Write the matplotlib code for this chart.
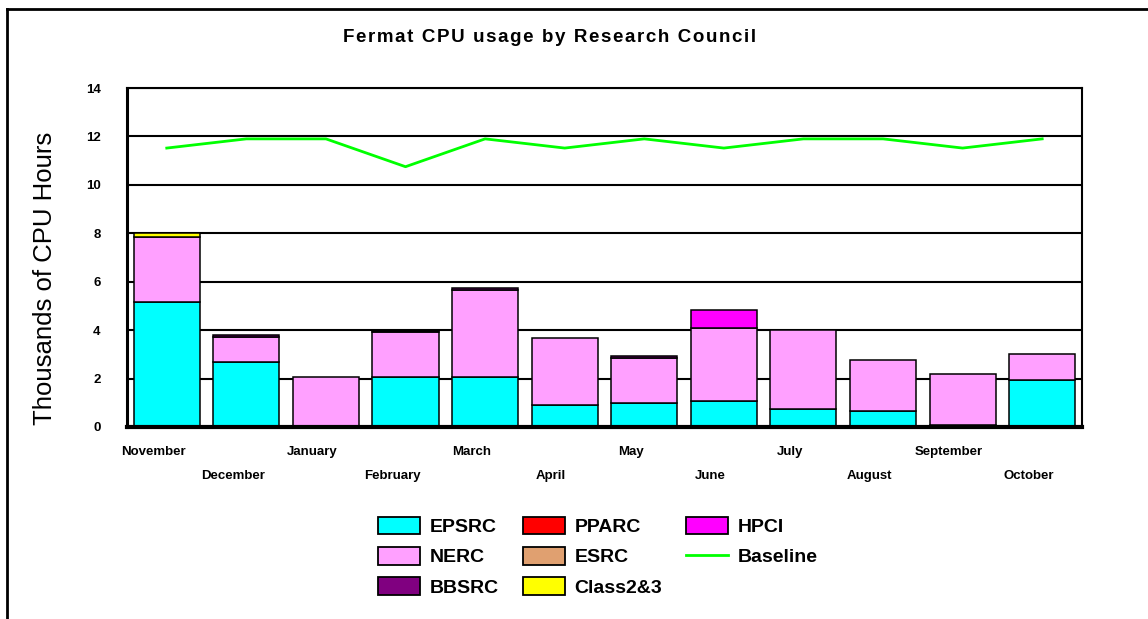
import matplotlib
matplotlib.use("Agg")
import matplotlib.pyplot as plt
from matplotlib.patches import Patch
from matplotlib.lines import Line2D
import numpy as np

plt.rcParams['font.family'] = ['Liberation Sans', 'DejaVu Sans']

months = ['November', 'December', 'January', 'February', 'March', 'April',
          'May', 'June', 'July', 'August', 'September', 'October']

# thousands of CPU hours per council
epsrc = [5.17, 2.70, 0.00, 2.08, 2.08, 0.92, 1.00, 1.08, 0.75, 0.67, 0.10, 1.92]
nerc = [2.66, 1.00, 2.08, 1.84, 3.59, 2.75, 1.83, 3.00, 3.25, 2.08, 2.10, 1.08]
bbsrc = [0.00, 0.08, 0.00, 0.05, 0.08, 0.00, 0.09, 0.00, 0.00, 0.00, 0.00, 0.00]
pparc = [0.00] * 12
esrc = [0.00] * 12
class23 = [0.17, 0.00, 0.00, 0.00, 0.00, 0.00, 0.00, 0.00, 0.00, 0.00, 0.00, 0.00]
hpci = [0.00, 0.00, 0.00, 0.00, 0.00, 0.00, 0.00, 0.75, 0.00, 0.00, 0.00, 0.00]
baseline = [11.52, 11.90, 11.90, 10.75, 11.90, 11.52, 11.90, 11.52, 11.90, 11.90, 11.52, 11.90]

series = [('EPSRC', epsrc, '#00FFFF'), ('NERC', nerc, '#FFA0FF'),
          ('BBSRC', bbsrc, '#800080'), ('PPARC', pparc, '#FF0000'),
          ('ESRC', esrc, '#E0A070'), ('Class2&3', class23, '#FFFF00'),
          ('HPCI', hpci, '#FF00FF')]

fig = plt.figure(figsize=(11.48, 6.19), dpi=100)
ax = fig.add_axes([0.1106, 0.3102, 0.8319, 0.5476])

x = np.arange(len(months))
ax.set_axisbelow(True)
ax.yaxis.grid(True, color='black', linewidth=1.5)
bottom = np.zeros(len(months))
for name, vals, col in series:
    vals = np.array(vals)
    mask = vals > 0
    ax.bar(x[mask], vals[mask], 0.83, bottom=bottom[mask], color=col,
           edgecolor='black', linewidth=1.1, zorder=2)
    bottom += vals
ax.plot(x, baseline, color='#00FF00', linewidth=2, zorder=3)

ax.set_xlim(-0.5, 11.5)
ax.set_ylim(0, 14)
ax.set_yticks(range(0, 15, 2))
ax.set_xticks([])
ax.tick_params(axis='y', length=0, pad=19)
for lab in ax.get_yticklabels():
    lab.set_fontweight('bold')
    lab.set_fontsize(9.5)
for s in ['top', 'right']:
    ax.spines[s].set_linewidth(1.5)
ax.spines['left'].set_linewidth(2.2)
ax.spines['bottom'].set_linewidth(3)

trans = ax.get_xaxis_transform()
for i, m in enumerate(months):
    yy = -0.074 if i % 2 == 0 else -0.145
    ax.text(i - 0.17, yy, m, transform=trans, ha='center', va='center',
            fontsize=9.5, fontweight='bold')

fig.text(0.039, 0.551, 'Thousands of CPU Hours', rotation=90, ha='center',
         va='center', fontsize=18.5)
title = 'Fermat CPU usage by Research Council'
fig.text(0.479, 0.939, '\u200a'.join(title), ha='center', va='center',
         fontsize=13.5, fontweight='bold')

handles = [Patch(facecolor=c, edgecolor='black', linewidth=1.3, label=n)
           for n, v, c in series]
handles.append(Line2D([], [], color='#00FF00', linewidth=2, label='Baseline'))
fig.legend(handles=handles, ncol=3, loc='upper left',
           bbox_to_anchor=(0.3225, 0.178), frameon=False,
           prop={'weight': 'bold', 'size': 14}, handlelength=2.16,
           handleheight=1.03, handletextpad=0.52, columnspacing=1.2,
           labelspacing=0.55, borderaxespad=0)

# outer chart border
fig.add_artist(Line2D([0.0061, 1.0], [0.9855, 0.9855], color='black',
                      linewidth=2, transform=fig.transFigure))
fig.add_artist(Line2D([0.0061, 0.0061], [0.0, 0.9855], color='black',
                      linewidth=2, transform=fig.transFigure))

fig.savefig('out.png', dpi=100)
